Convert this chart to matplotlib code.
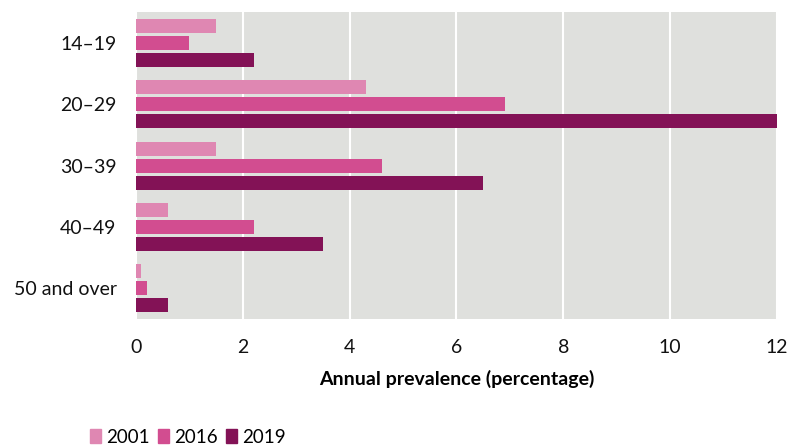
import numpy as np
import matplotlib
matplotlib.use("Agg")
import matplotlib.pyplot as plt
from matplotlib.patches import Patch

categories = ["14–19", "20–29", "30–39", "40–49", "50 and over"]
years = ["2001", "2016", "2019"]
v2001 = [1.5, 4.3, 1.5, 0.6, 0.1]
v2016 = [1.0, 6.9, 4.6, 2.2, 0.2]
v2019 = [2.2, 12.0, 6.5, 3.5, 0.6]
colors = ["#df87b2", "#d24d90", "#831256"]

plt.rcParams["font.family"] = ["Lato", "DejaVu Sans"]

fig = plt.figure(figsize=(7.88, 4.47), dpi=100)
ax = fig.add_axes([0.1726, 0.286, 0.8134, 0.687])
ax.set_facecolor("#dfe0dd")

y = np.arange(len(categories))
h = 0.228
step = 0.277
for i, (vals, c) in enumerate(zip([v2001, v2016, v2019], colors)):
    ax.barh(y + (i - 1) * step, vals, height=h, color=c, zorder=3)

ax.set_ylim(len(categories) - 0.5, -0.5)
ax.set_xlim(0, 12)
ax.set_xticks(range(0, 13, 2))
ax.set_yticks(y)
ax.set_yticklabels(categories)
ax.tick_params(length=0, labelsize=14, colors="#111111")
ax.tick_params(axis="x", pad=14)
ax.tick_params(axis="y", pad=14)
ax.grid(axis="x", color="white", linewidth=1.5, zorder=1)
for s in ax.spines.values():
    s.set_visible(False)
ax.set_xlabel("Annual prevalence (percentage)", fontsize=14, fontweight="bold", labelpad=10)

handles = [Patch(color=c, label=l) for c, l in zip(colors, years)]
fig.legend(handles=handles, loc="lower left", bbox_to_anchor=(0.093, -0.035), ncol=3,
           frameon=False, fontsize=13.5, handlelength=0.6, handleheight=0.8,
           handletextpad=0.25, columnspacing=0.45)

fig.savefig("out.png", dpi=100)
